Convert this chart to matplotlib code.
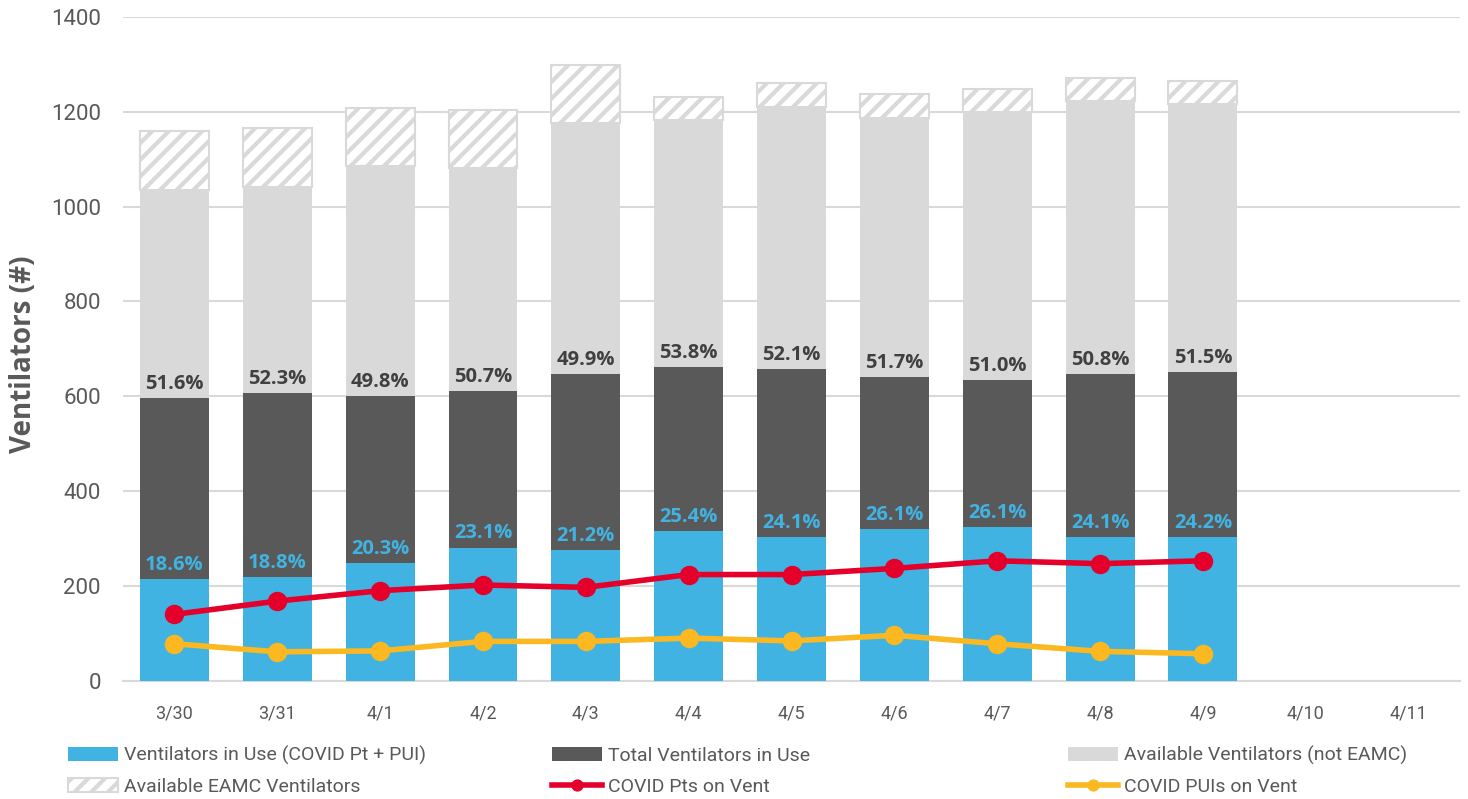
import matplotlib.pyplot as plt
import numpy as np

# dates on the x axis (last two have no data yet)
dates = ["3/30", "3/31", "4/1", "4/2", "4/3", "4/4", "4/5", "4/6", "4/7", "4/8", "4/9", "4/10", "4/11"]

# ventilator counts
covid_in_use = [214, 219, 248, 281, 275, 315, 303, 320, 325, 303, 303]
total_in_use = [596, 607, 601, 611, 646, 662, 657, 640, 634, 646, 651]
avail_not_eamc = [440, 434, 485, 470, 530, 521, 554, 547, 566, 576, 565]
avail_eamc = [124, 124, 123, 123, 123, 49, 49, 51, 49, 50, 50]

covid_pts = [140, 168, 190, 202, 197, 224, 224, 237, 253, 247, 253]
covid_puis = [78, 61, 63, 83, 83, 90, 84, 96, 78, 62, 57]

# percent labels shown on the bars
covid_pct = ["18.6%", "18.8%", "20.3%", "23.1%", "21.2%", "25.4%", "24.1%", "26.1%", "26.1%", "24.1%", "24.2%"]
total_pct = ["51.6%", "52.3%", "49.8%", "50.7%", "49.9%", "53.8%", "52.1%", "51.7%", "51.0%", "50.8%", "51.5%"]

BLUE = "#41B3E3"
DARK = "#595959"
LIGHT = "#D9D9D9"
RED = "#E4002B"
YELLOW = "#FBB820"
TXT = "#595959"

plt.rcParams["font.family"] = ["Roboto", "DejaVu Sans"]
plt.rcParams["hatch.linewidth"] = 3.0
plt.rcParams["hatch.color"] = LIGHT

fig = plt.figure(figsize=(14.68, 7.99), dpi=100)
ax = fig.add_axes([0.0838, 0.148, 0.9108, 0.8307])

x = np.arange(len(covid_in_use))
w = 0.67
tot = np.array(total_in_use)
other_top = tot + np.array(avail_not_eamc)

b_dark = ax.bar(x, total_in_use, w, color=DARK, zorder=2)
b_blue = ax.bar(x, covid_in_use, w, color=BLUE, zorder=3)
b_light = ax.bar(x, avail_not_eamc, w, bottom=tot, color=LIGHT, zorder=2)
b_eamc = ax.bar(x, avail_eamc, w, bottom=other_top, facecolor="white",
                edgecolor=LIGHT, hatch="//", linewidth=1.5, zorder=2)

l_pts, = ax.plot(x, covid_pts, color=RED, lw=4, marker="o", ms=13, zorder=5)
l_puis, = ax.plot(x, covid_puis, color=YELLOW, lw=4, marker="o", ms=13, zorder=5)

for i in range(len(x)):
    ax.annotate(covid_pct[i], (x[i], covid_in_use[i]), xytext=(0, 3),
                textcoords="offset points", ha="center", va="bottom",
                color=BLUE, fontsize=14.5, fontweight="bold", family="Open Sans", zorder=6)
    ax.annotate(total_pct[i], (x[i], total_in_use[i]), xytext=(0, 3),
                textcoords="offset points", ha="center", va="bottom",
                color="#404040", fontsize=14.5, fontweight="bold", family="Open Sans", zorder=6)

ax.set_xlim(-0.5, len(dates) - 0.5)
ax.set_ylim(0, 1400)
ax.set_yticks(range(0, 1401, 200))
ax.set_xticks(range(len(dates)))
ax.set_xticklabels(dates)
ax.tick_params(axis="y", length=0, labelsize=16, labelcolor=TXT, pad=16)
ax.tick_params(axis="x", length=0, labelsize=13, labelcolor=TXT, pad=17)
ax.grid(axis="y", color=LIGHT, lw=1.5)
ax.set_axisbelow(True)
for s in ["top", "right", "left"]:
    ax.spines[s].set_visible(False)
ax.spines["bottom"].set_color(LIGHT)
ax.spines["bottom"].set_linewidth(1.5)

fig.text(0.016, 0.557, "Ventilators (#)", rotation=90, ha="center", va="center",
         fontsize=20, fontweight="bold", color=TXT, family="Open Sans")

# legend entries placed one by one, like the original's 3x2 grid
entries = [
    (b_blue, "Ventilators in Use (COVID Pt + PUI)", 0.0463, 0.0544),
    (b_dark, "Total Ventilators in Use", 0.376, 0.0544),
    (b_light, "Available Ventilators (not EAMC)", 0.7275, 0.0544),
    (b_eamc, "Available EAMC Ventilators", 0.0463, 0.0156),
    (l_pts, "COVID Pts on Vent", 0.376, 0.0156),
    (l_puis, "COVID PUIs on Vent", 0.7275, 0.0156),
]
for h, lab, x0, y0 in entries:
    fig.legend([h], [lab], loc="center left", bbox_to_anchor=(x0, y0),
               bbox_transform=fig.transFigure, frameon=False, fontsize=14,
               labelcolor=TXT, handlelength=2.55, handletextpad=0.35,
               borderpad=0, borderaxespad=0, markerscale=0.6)

fig.savefig("out.png", dpi=100)
